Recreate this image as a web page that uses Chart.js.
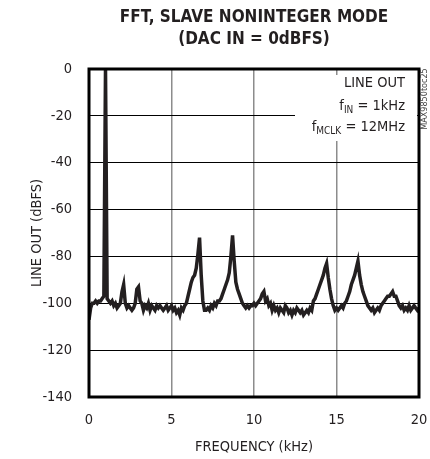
<!DOCTYPE html>
<html>
<head>
<meta charset="utf-8">
<script src="https://cdn.jsdelivr.net/npm/chart.js@4.4.0/dist/chart.umd.min.js"></script>
<style>
  html, body { margin: 0; padding: 0; background: #fff; }
  #wrap { width: 430px; height: 459px; }
</style>
</head>
<body>
<div id="wrap"><canvas id="fft"></canvas></div>
<script>
const FONT = "'Liberation Sans Narrow', 'DejaVu Sans Condensed', 'Liberation Sans', sans-serif"

const titleLines = ['FFT, SLAVE NONINTEGER MODE', '(DAC IN = 0dBFS)']
const xTitle = 'FREQUENCY (kHz)'
const yTitle = 'LINE OUT (dBFS)'
const sideTag = 'MAX9850toc25'

// frequency (kHz) and level (dBFS)
const freq = [
  0.0, 0.1, 0.2, 0.3, 0.4, 0.5, 0.6, 0.7, 0.8, 0.9,
  1.0, 1.1, 1.2, 1.3, 1.4, 1.5, 1.6, 1.7, 1.8, 1.9,
  2.0, 2.1, 2.2, 2.3, 2.4, 2.5, 2.6, 2.7, 2.8, 2.9,
  3.0, 3.1, 3.2, 3.3, 3.4, 3.5, 3.6, 3.7, 3.8, 3.9,
  4.0, 4.1, 4.2, 4.3, 4.4, 4.5, 4.6, 4.7, 4.8, 4.9,
  5.0, 5.1, 5.2, 5.3, 5.4, 5.5, 5.6, 5.7, 5.8, 5.9,
  6.0, 6.1, 6.2, 6.3, 6.4, 6.5, 6.6, 6.7, 6.8, 6.9,
  7.0, 7.1, 7.2, 7.3, 7.4, 7.5, 7.6, 7.7, 7.8, 7.9,
  8.0, 8.1, 8.2, 8.3, 8.4, 8.5, 8.6, 8.7, 8.8, 8.9,
  9.0, 9.1, 9.2, 9.3, 9.4, 9.5, 9.6, 9.7, 9.8, 9.9,
  10.0, 10.1, 10.2, 10.3, 10.4, 10.5, 10.6, 10.7, 10.8, 10.9,
  11.0, 11.1, 11.2, 11.3, 11.4, 11.5, 11.6, 11.7, 11.8, 11.9,
  12.0, 12.1, 12.2, 12.3, 12.4, 12.5, 12.6, 12.7, 12.8, 12.9,
  13.0, 13.1, 13.2, 13.3, 13.4, 13.5, 13.6, 13.7, 13.8, 13.9,
  14.0, 14.1, 14.2, 14.3, 14.4, 14.5, 14.6, 14.7, 14.8, 14.9,
  15.0, 15.1, 15.2, 15.3, 15.4, 15.5, 15.6, 15.7, 15.8, 15.9,
  16.0, 16.1, 16.2, 16.3, 16.4, 16.5, 16.6, 16.7, 16.8, 16.9,
  17.0, 17.1, 17.2, 17.3, 17.4, 17.5, 17.6, 17.7, 17.8, 17.9,
  18.0, 18.1, 18.2, 18.3, 18.4, 18.5, 18.6, 18.7, 18.8, 18.9,
  19.0, 19.1, 19.2, 19.3, 19.4, 19.5, 19.6, 19.7, 19.8, 19.9,
  20.0
]
const level = [
  -107, -102, -100, -100, -99, -100, -99, -99, -98, -97,
  0, -98, -99, -100, -99, -101, -100, -102, -101, -100,
  -95, -92, -100, -102, -101, -102, -103, -102, -100, -94,
  -93, -99, -100, -103, -101, -102, -100, -103, -101, -102,
  -103, -101, -102, -101, -102, -103, -102, -101, -103, -102,
  -101, -103, -102, -104, -103, -105, -102, -103, -101, -100,
  -97, -94, -91, -89, -88, -85, -79, -72, -88, -99,
  -103, -103, -102, -103, -101, -102, -100, -101, -99, -99,
  -98, -96, -94, -92, -90, -87, -80, -71, -82, -91,
  -94, -96, -98, -100, -101, -102, -101, -102, -101, -101,
  -100, -101, -100, -99, -98, -96, -95, -99, -98, -101,
  -100, -103, -101, -103, -102, -104, -102, -103, -104, -101,
  -102, -104, -103, -105, -103, -104, -102, -103, -104, -103,
  -105, -104, -103, -104, -102, -103, -99, -98, -96, -94,
  -92, -90, -88, -85, -83, -89, -94, -98, -101, -103,
  -102, -103, -102, -101, -102, -100, -99, -97, -95, -92,
  -90, -88, -85, -82, -88, -92, -95, -97, -99, -101,
  -102, -103, -102, -104, -103, -102, -103, -101, -100, -99,
  -98, -97, -97, -96, -95, -97, -97, -99, -101, -102,
  -101, -103, -102, -103, -101, -103, -102, -101, -102, -103,
  -102
]

const xMin = 0, xMax = 20, xStep = 5
const yMin = -140, yMax = 0, yStep = 20

// draws text pieces right-aligned ending at x; sub pieces are smaller and lowered
function drawRich(ctx, parts, xRight, y) {
  let widths = parts.map(p => {
    ctx.font = `${p.sub ? 10 : 14.5}px ${FONT}`
    return ctx.measureText(p.t).width
  })
  let x = xRight - widths.reduce((a, b) => a + b, 0)
  parts.forEach((p, i) => {
    ctx.font = `${p.sub ? 10 : 14.5}px ${FONT}`
    ctx.fillText(p.t, x, p.sub ? y + 4 : y)
    x += widths[i]
  })
}

const decor = {
  id: 'decor',
  beforeDatasetsDraw(chart) {
    const ctx = chart.ctx
    const a = chart.chartArea
    // white box behind the legend text
    ctx.save()
    ctx.fillStyle = '#fff'
    ctx.fillRect(a.right - 124, a.top + 6, 122, 66)
    ctx.restore()
  },
  afterDatasetsDraw(chart) {
    const ctx = chart.ctx
    const a = chart.chartArea
    ctx.save()
    ctx.strokeStyle = '#000'
    ctx.lineWidth = 3
    ctx.strokeRect(a.left, a.top, a.right - a.left, a.bottom - a.top)

    ctx.fillStyle = '#231f20'
    ctx.textBaseline = 'middle'
    ctx.textAlign = 'center'
    ctx.font = `bold 17px ${FONT}`
    const cx = (a.left + a.right) / 2
    ctx.fillText(titleLines[0], cx, 18)
    ctx.fillText(titleLines[1], cx, 40)

    ctx.textAlign = 'left'
    drawRich(ctx, [{t: 'LINE OUT'}], a.right - 14, a.top + 14)
    drawRich(ctx, [{t: 'f'}, {t: 'IN', sub: true}, {t: ' = 1kHz'}], a.right - 14, a.top + 37)
    drawRich(ctx, [{t: 'f'}, {t: 'MCLK', sub: true}, {t: ' = 12MHz'}], a.right - 14, a.top + 58)

    ctx.translate(425, a.top + 30)
    ctx.rotate(-Math.PI / 2)
    ctx.textAlign = 'center'
    ctx.font = `9px ${FONT}`
    ctx.fillStyle = '#444'
    ctx.fillText(sideTag, 0, 0)
    ctx.restore()
  }
}

new Chart(document.getElementById('fft'), {
  type: 'line',
  data: {
    datasets: [{
      data: freq.map((f, i) => ({x: f, y: level[i]})),
      borderColor: '#231f20',
      borderWidth: 3.5,
      pointRadius: 0,
      tension: 0,
      fill: false
    }]
  },
  options: {
    responsive: true,
    maintainAspectRatio: false,
    animation: false,
    events: [],
    layout: { padding: { top: 69, right: 11, left: 0, bottom: 0 } },
    plugins: { legend: { display: false }, tooltip: { enabled: false } },
    scales: {
      x: {
        type: 'linear',
        min: xMin, max: xMax,
        ticks: { stepSize: xStep, padding: 15, color: '#231f20', font: { family: FONT, size: 14.5 } },
        grid: { color: '#8c8c8c', lineWidth: 1.5, drawTicks: false },
        border: { display: false },
        title: { display: true, text: xTitle, color: '#231f20', font: { family: FONT, size: 14.5 }, padding: { top: 0, bottom: 3 } },
        afterFit(s) { s.height = 62; s.paddingLeft = 0; s.paddingRight = 0 }
      },
      y: {
        min: yMin, max: yMax,
        ticks: { stepSize: yStep, padding: 17, color: '#231f20', font: { family: FONT, size: 14.5 } },
        grid: { color: '#000', lineWidth: 1, drawTicks: false },
        border: { display: false },
        title: { display: true, text: yTitle, color: '#231f20', font: { family: FONT, size: 14.5 }, padding: { top: 29, bottom: 0 } },
        afterFit(s) { s.width = 89; s.paddingTop = 0; s.paddingBottom = 0 }
      }
    }
  },
  plugins: [decor]
})
</script>
</body>
</html>
